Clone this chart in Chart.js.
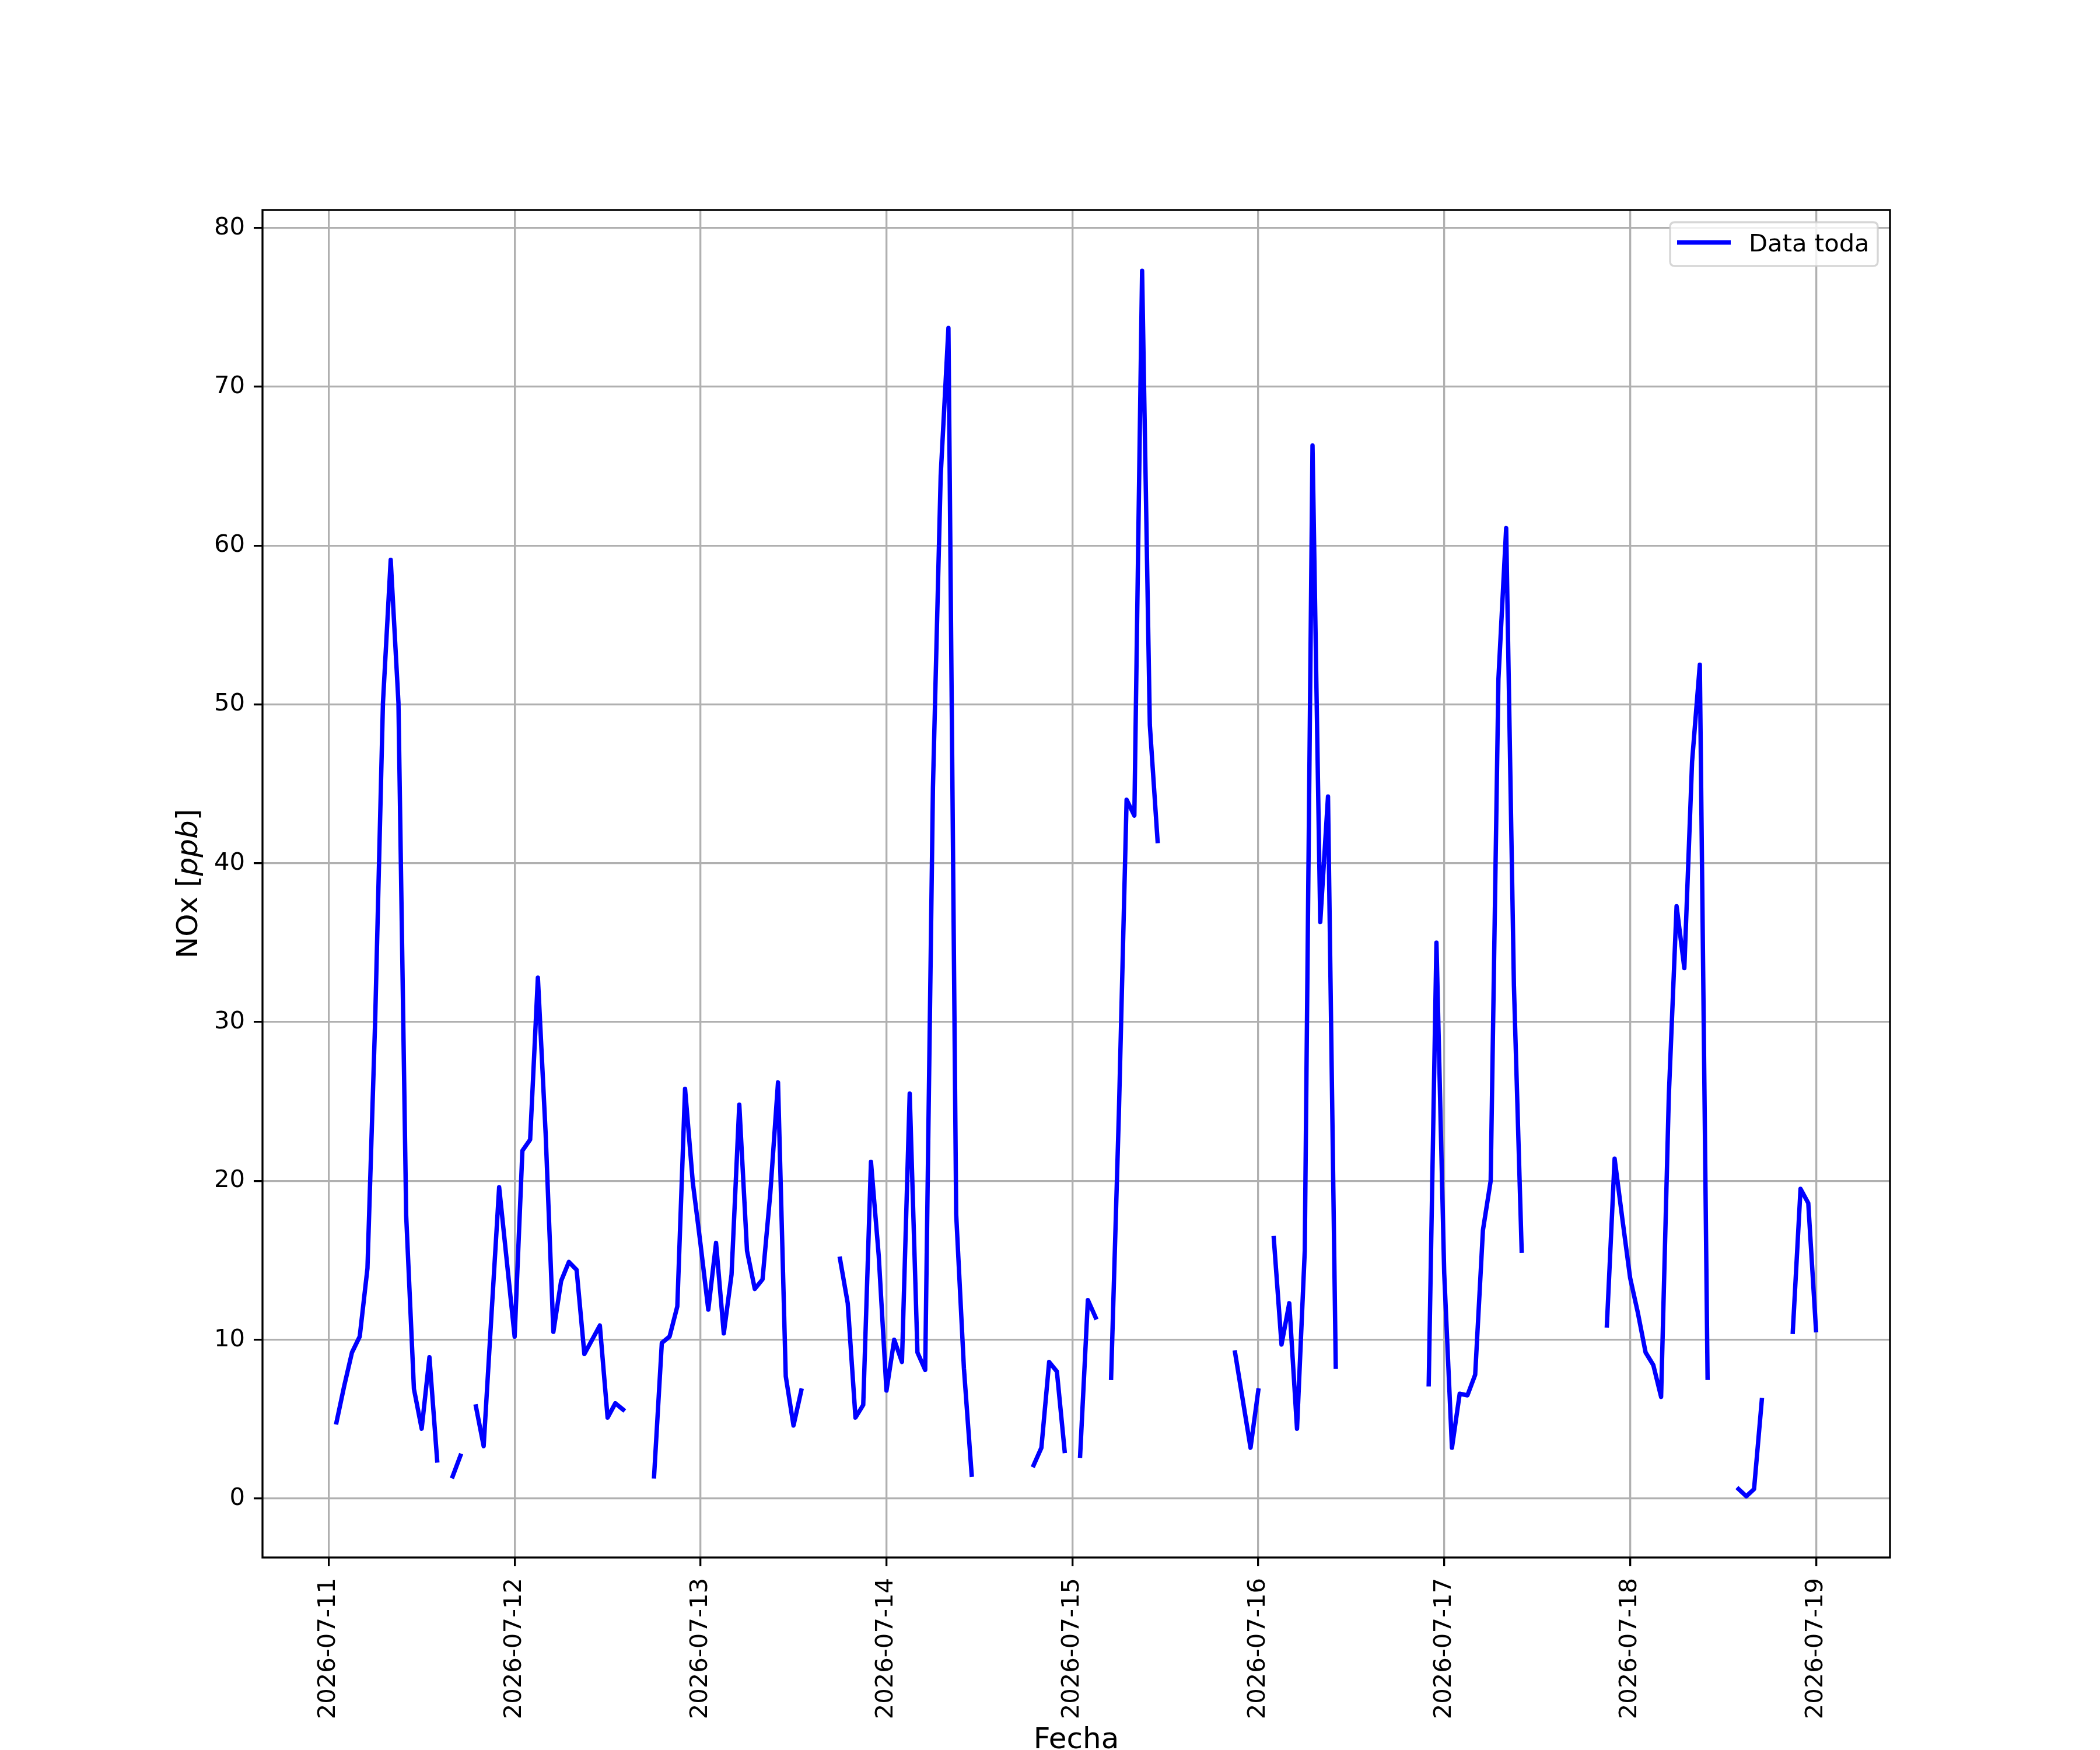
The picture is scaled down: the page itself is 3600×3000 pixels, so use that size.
<!DOCTYPE html>
<html>
<head>
<meta charset="utf-8">
<script src="https://cdn.jsdelivr.net/npm/chart.js@4.4.1/dist/chart.umd.min.js"></script>
<style>
    html, body { margin: 0; padding: 0; background: #ffffff; overflow: hidden; }
    canvas { display: block; }
</style>
</head>
<body>
<canvas id="noxChart" width="3600" height="3000" style="width:3600px;height:3000px"></canvas>
<script>
// Etiquetas del eje X (un tick por día, a medianoche)
const fechas = ['2026-07-11', '2026-07-12', '2026-07-13', '2026-07-14', '2026-07-15',
    '2026-07-16', '2026-07-17', '2026-07-18', '2026-07-19'];

// Ticks del eje Y
const ticksY = [0, 10, 20, 30, 40, 50, 60, 70, 80];

// NOx [ppb] horario, una lista por día (hora 0..23), null = sin dato
const nox_0711 = [null, 4.8, 7.1, 9.2, 10.2, 14.5, 30.2, 50.1, 59.1, 50.1, 17.8, 6.9,
    4.4, 8.9, 2.4, null, 1.4, 2.7, null, 5.8, 3.3, 11.5, 19.6, 14.9];
const nox_0712 = [10.2, 21.9, 22.6, 32.8, 23.0, 10.5, 13.7, 14.9, 14.4, 9.1, 10.0, 10.9,
    5.1, 6.0, 5.6, null, null, null, 1.4, 9.8, 10.2, 12.1, 25.8, 19.9];
const nox_0713 = [16.0, 11.9, 16.1, 10.4, 14.1, 24.8, 15.6, 13.2, 13.8, 19.2, 26.2, 7.7,
    4.6, 6.8, null, null, null, null, 15.1, 12.3, 5.1, 5.9, 21.2, 15.3];
const nox_0714 = [6.8, 10.0, 8.6, 25.5, 9.2, 8.1, 44.8, 64.4, 73.7, 17.9, 8.2, 1.5,
    null, null, null, null, null, null, null, 2.1, 3.2, 8.6, 8.0, 3.0];
const nox_0715 = [null, 2.7, 12.5, 11.4, null, 7.6, 24.2, 44.0, 43.0, 77.3, 48.7, 41.4,
    null, null, null, null, null, null, null, null, null, 9.2, 6.2, 3.2];
const nox_0716 = [6.8, null, 16.4, 9.7, 12.3, 4.4, 15.6, 66.3, 36.3, 44.2, 8.3, null,
    null, null, null, null, null, null, null, null, null, null, 7.2, 35.0];
const nox_0717 = [14.2, 3.2, 6.6, 6.5, 7.8, 16.9, 20.0, 51.6, 61.1, 32.3, 15.6, null,
    null, null, null, null, null, null, null, null, null, 10.9, 21.4, 17.6];
const nox_0718 = [13.9, 11.7, 9.2, 8.4, 6.4, 25.4, 37.3, 33.4, 46.4, 52.5, 7.6, null,
    null, null, 0.6, 0.15, 0.6, 6.2, null, null, null, 10.5, 19.5, 18.6];
const nox_0719 = [10.6];

const dias = [nox_0711, nox_0712, nox_0713, nox_0714, nox_0715, nox_0716, nox_0717, nox_0718, nox_0719];

// x = horas desde 2026-07-11 00:00
let puntos = [];
dias.forEach((valores, d) => {
    valores.forEach((v, h) => {
        puntos.push({ x: d * 24 + h, y: v });
    });
});
// quitar el primer hueco (la serie empieza a la 01:00)
puntos = puntos.slice(1);

const fuente = "'DejaVu Sans', 'Liberation Sans', sans-serif";
const grosorLinea = 7.5;

const marco = {
    id: 'marco',
    afterDraw(chart) {
        const c = chart.ctx;
        const a = chart.chartArea;

        // spines
        c.save();
        c.strokeStyle = '#000000';
        c.lineWidth = 3.33;
        c.strokeRect(a.left, a.top, a.right - a.left, a.bottom - a.top);
        c.restore();

        // leyenda
        c.save();
        const lx = 2863, ly = 381, lw = 356, lh = 75, r = 8;
        c.beginPath();
        c.moveTo(lx + r, ly);
        c.lineTo(lx + lw - r, ly);
        c.quadraticCurveTo(lx + lw, ly, lx + lw, ly + r);
        c.lineTo(lx + lw, ly + lh - r);
        c.quadraticCurveTo(lx + lw, ly + lh, lx + lw - r, ly + lh);
        c.lineTo(lx + r, ly + lh);
        c.quadraticCurveTo(lx, ly + lh, lx, ly + lh - r);
        c.lineTo(lx, ly + r);
        c.quadraticCurveTo(lx, ly, lx + r, ly);
        c.closePath();
        c.fillStyle = 'rgba(255,255,255,0.8)';
        c.fill();
        c.strokeStyle = 'rgba(204,204,204,0.8)';
        c.lineWidth = 3.33;
        c.stroke();

        c.beginPath();
        c.moveTo(2875, 415.7);
        c.lineTo(2967, 415.7);
        c.strokeStyle = '#0000ff';
        c.lineWidth = grosorLinea;
        c.lineCap = 'butt';
        c.stroke();

        c.fillStyle = '#000000';
        c.font = '41.7px ' + fuente;
        c.textAlign = 'left';
        c.textBaseline = 'alphabetic';
        c.fillText('Data toda', 2998, 431);
        c.restore();

        // título eje X
        c.save();
        c.fillStyle = '#000000';
        c.font = '50px ' + fuente;
        c.textAlign = 'center';
        c.textBaseline = 'alphabetic';
        c.fillText('Fecha', (a.left + a.right) / 2, 2997);
        c.restore();

        // título eje Y: NOx [ppb] con ppb en cursiva
        c.save();
        c.translate(338, (a.top + a.bottom) / 2);
        c.rotate(-Math.PI / 2);
        c.fillStyle = '#000000';
        c.textAlign = 'left';
        c.textBaseline = 'alphabetic';
        const partes = [
            ['NOx [', '50px ' + fuente],
            ['ppb', 'italic 50px ' + fuente],
            [']', '50px ' + fuente]
        ];
        let total = 0;
        partes.forEach(p => { c.font = p[1]; total += c.measureText(p[0]).width; });
        let px = -total / 2;
        partes.forEach(p => {
            c.font = p[1];
            c.fillText(p[0], px, 0);
            px += c.measureText(p[0]).width;
        });
        c.restore();
    }
};

const ctx = document.getElementById('noxChart');

new Chart(ctx, {
    type: 'line',
    data: {
        datasets: [{
            label: 'Data toda',
            data: puntos,
            borderColor: '#0000ff',
            borderWidth: grosorLinea,
            borderJoinStyle: 'round',
            borderCapStyle: 'square',
            pointRadius: 0,
            pointHoverRadius: 0,
            tension: 0,
            spanGaps: false,
            fill: false
        }]
    },
    options: {
        responsive: false,
        animation: false,
        devicePixelRatio: 1,
        layout: {
            padding: { left: 0, right: 360, top: 360, bottom: 0 }
        },
        plugins: {
            legend: { display: false },
            tooltip: { enabled: false }
        },
        scales: {
            x: {
                type: 'linear',
                min: -8.55,
                max: 201.55,
                afterBuildTicks: (s) => {
                    s.ticks = fechas.map((f, i) => ({ value: i * 24 }));
                },
                afterFit: (s) => { s.height = 330; },
                ticks: {
                    autoSkip: false,
                    maxRotation: 90,
                    minRotation: 90,
                    padding: 20,
                    color: '#000000',
                    font: { family: fuente, size: 41.7 },
                    callback: (v) => fechas[Math.round(v / 24)]
                },
                grid: {
                    color: '#b0b0b0',
                    lineWidth: 3.33,
                    tickColor: '#000000',
                    tickWidth: 3.33,
                    tickLength: 15
                },
                border: { display: false }
            },
            y: {
                type: 'linear',
                min: -3.71,
                max: 81.13,
                afterBuildTicks: (s) => {
                    s.ticks = ticksY.map(v => ({ value: v }));
                },
                afterFit: (s) => { s.width = 450; },
                ticks: {
                    padding: 15,
                    color: '#000000',
                    font: { family: fuente, size: 41.7 },
                    callback: (v) => String(v)
                },
                grid: {
                    color: '#b0b0b0',
                    lineWidth: 3.33,
                    tickColor: '#000000',
                    tickWidth: 3.33,
                    tickLength: 15
                },
                border: { display: false }
            }
        }
    },
    plugins: [marco]
});
</script>
</body>
</html>
